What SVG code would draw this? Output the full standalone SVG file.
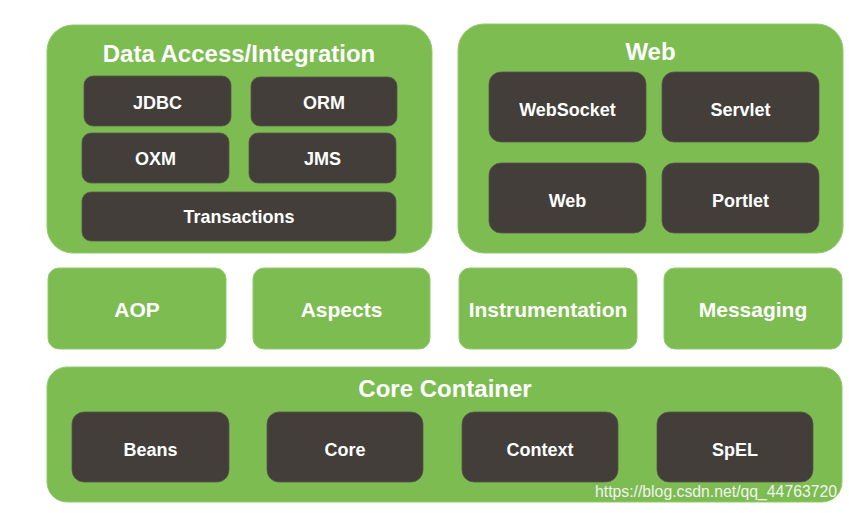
<svg xmlns="http://www.w3.org/2000/svg" width="849" height="513" viewBox="0 0 849 513">
<style>
  .panel { fill: #7cbc50; stroke: #93c96e; stroke-width: 1; }
  .box { fill: #433e3a; stroke: #5a5450; stroke-width: 0.8; }
  .gbox { fill: #7cbc50; stroke: #93c96e; stroke-width: 1; }
  .title { font-family: "Liberation Sans", Arial, sans-serif; font-weight: bold; font-size: 24px; fill: #ffffff; text-anchor: middle; }
  .lbl { font-family: "Liberation Sans", Arial, sans-serif; font-weight: bold; font-size: 18px; fill: #ffffff; text-anchor: middle; }
  .glbl { font-family: "Liberation Sans", Arial, sans-serif; font-weight: bold; font-size: 21px; fill: #ffffff; text-anchor: middle; }
  .wm { font-family: "Liberation Sans", Arial, sans-serif; font-size: 16px; fill: #f2f2f2; }
</style>
<rect width="849" height="513" fill="#ffffff"/>

<g id="data-access">
  <rect class="panel" x="47" y="25" width="385" height="228" rx="26"/>
  <text class="title" x="239" y="62">Data Access/Integration</text>
  <g id="jdbc"><rect class="box" x="84" y="76" width="147" height="50" rx="9"/><text class="lbl" x="157.5" y="109">JDBC</text></g>
  <g id="orm"><rect class="box" x="251" y="77" width="146" height="49" rx="9"/><text class="lbl" x="324" y="109">ORM</text></g>
  <g id="oxm"><rect class="box" x="82" y="133" width="147" height="50" rx="9"/><text class="lbl" x="155.5" y="165">OXM</text></g>
  <g id="jms"><rect class="box" x="249" y="133" width="147" height="50" rx="9"/><text class="lbl" x="322.5" y="165">JMS</text></g>
  <g id="transactions"><rect class="box" x="82" y="192" width="314" height="49" rx="9"/><text class="lbl" x="239" y="223">Transactions</text></g>
</g>

<g id="web-panel">
  <rect class="panel" x="458" y="24" width="385" height="229" rx="26"/>
  <text class="title" x="650.5" y="60">Web</text>
  <g id="websocket"><rect class="box" x="489" y="72" width="157" height="70" rx="12"/><text class="lbl" x="567.5" y="115.5">WebSocket</text></g>
  <g id="servlet"><rect class="box" x="662" y="72" width="157" height="70" rx="12"/><text class="lbl" x="740.5" y="115.5">Servlet</text></g>
  <g id="web"><rect class="box" x="489" y="163" width="157" height="70" rx="12"/><text class="lbl" x="567.5" y="206.5">Web</text></g>
  <g id="portlet"><rect class="box" x="662" y="163" width="157" height="70" rx="12"/><text class="lbl" x="740.5" y="206.5">Portlet</text></g>
</g>

<g id="aop"><rect class="gbox" x="48" y="268" width="178" height="81" rx="11"/><text class="glbl" x="137" y="317">AOP</text></g>
<g id="aspects"><rect class="gbox" x="253" y="268" width="177" height="81" rx="11"/><text class="glbl" x="341.5" y="317">Aspects</text></g>
<g id="instrumentation"><rect class="gbox" x="459" y="268" width="178" height="81" rx="11"/><text class="glbl" x="548" y="317">Instrumentation</text></g>
<g id="messaging"><rect class="gbox" x="664" y="268" width="178" height="81" rx="11"/><text class="glbl" x="753" y="317">Messaging</text></g>

<g id="core-container">
  <rect class="panel" x="47" y="367" width="795" height="135" rx="20"/>
  <text class="title" x="445" y="397">Core Container</text>
  <g id="beans"><rect class="box" x="72" y="412" width="157" height="70" rx="12"/><text class="lbl" x="150.5" y="456">Beans</text></g>
  <g id="core"><rect class="box" x="267" y="412" width="156" height="70" rx="12"/><text class="lbl" x="345" y="456">Core</text></g>
  <g id="context"><rect class="box" x="462" y="412" width="156" height="70" rx="12"/><text class="lbl" x="540" y="456">Context</text></g>
  <g id="spel"><rect class="box" x="657" y="412" width="156" height="70" rx="12"/><text class="lbl" x="735" y="456">SpEL</text></g>
</g>

<g id="connectors"></g>

<text class="wm" x="595" y="497" textLength="242" lengthAdjust="spacingAndGlyphs">https://blog.csdn.net/qq_44763720</text>
</svg>
